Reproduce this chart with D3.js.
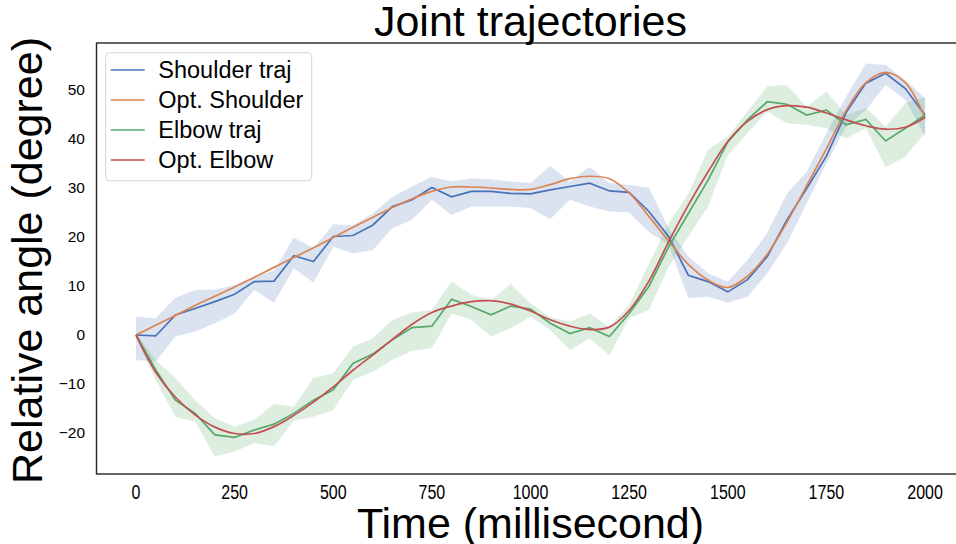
<!DOCTYPE html>
<head>
    <meta charset="utf-8">
    <title>Joint trajectories</title>
    <style>
        body { margin: 0; background: #fff; }
        text { font-family: "Liberation Sans", Arial, sans-serif; fill: #000; }
    </style>
</head>
<body>
    <svg width="956" height="544"></svg>

    <script src="https://d3js.org/d3.v7.min.js"></script>
    <script>

        // time samples (ms)
        var time = [0, 50, 100, 150, 200, 250, 300, 350, 400, 450, 500, 550, 600, 650, 700, 750, 800, 850, 900, 950,
            1000, 1050, 1100, 1150, 1200, 1250, 1300, 1350, 1400, 1450, 1500, 1550, 1600, 1650, 1700, 1750, 1800, 1850, 1900, 1950, 2000];

        var shoulderTraj = [0, -0.2, 4.1, 5.4, 6.8, 8.3, 10.9, 11.0, 16.2, 15.0, 20.1, 20.3, 22.4, 26.2, 27.6, 30.1, 28.2, 29.3, 29.3, 28.9,
            28.8, 29.6, 30.3, 31.0, 29.4, 29.1, 25.2, 20.1, 12.2, 10.9, 8.8, 11.3, 16.0, 23.5, 29.9, 36.5, 45.4, 51.4, 53.4, 50.3, 44.9];
        var shoulderLo = [-5.1, -5.4, -0.3, 0.7, 2.4, 4.4, 9.2, 6.6, 13.6, 10.7, 18.0, 16.7, 17.3, 21.8, 23.5, 27.6, 24.5, 26.2, 26.2, 26.2,
            25.9, 23.6, 27.6, 26.2, 25.2, 25.0, 21.0, 18.4, 7.5, 7.8, 6.6, 7.8, 12.6, 18.7, 26.9, 35.0, 42.5, 45.9, 51.0, 48.0, 40.5];
        var shoulderHi = [3.7, 3.4, 7.6, 9.2, 9.3, 10.2, 11.9, 13.1, 19.9, 17.7, 22.6, 22.4, 24.8, 28.2, 30.3, 32.3, 31.3, 32.0, 31.8, 31.3,
            31.0, 34.5, 31.3, 34.3, 31.0, 30.6, 30.1, 21.8, 16.0, 12.6, 10.9, 15.3, 20.8, 28.9, 33.3, 41.2, 48.6, 55.4, 55.1, 52.0, 48.3];
        var optShoulder = [0, 2, 4, 6, 7.9, 9.8, 11.8, 13.8, 15.8, 17.8, 19.9, 22, 24, 26, 27.8, 29.3, 30.2, 30.2, 30, 29.7,
            29.7, 30.7, 31.9, 32.4, 31.9, 29, 24.2, 19.2, 14.4, 11.2, 9.7, 12, 16.5, 23, 30.5, 38, 45.8, 51.5, 53.6, 51.5, 44.3];

        var elbowTraj = [0, -7.1, -13.3, -16.0, -20.4, -20.9, -19.4, -18.2, -16.0, -13.3, -11.2, -5.8, -3.9, -1.0, 1.5, 1.8, 7.3, 5.8, 4.1, 5.9,
            5.3, 2.4, 0.3, 1.5, -0.3, 4.4, 9.9, 18.0, 24.8, 31.6, 39.4, 43.9, 47.6, 47.1, 44.9, 45.9, 42.9, 44.0, 39.6, 42.2, 44.9];
        var elbowLo = [-0.5, -9.2, -16.7, -17.7, -24.8, -23.8, -22.1, -22.7, -17.5, -16.7, -15.3, -9.2, -7.5, -5.1, -3.2, -2.7, 4.4, 3.1, -0.3, 1.4,
            3.7, 1.0, -3.1, -0.7, -4.1, 3.4, 5.1, 13.9, 20.1, 26.2, 36.7, 41.2, 45.6, 43.2, 42.9, 42.2, 40.1, 42.2, 34.3, 36.4, 41.2];
        var elbowHi = [0.5, -5.1, -8.8, -13.3, -17.0, -18.7, -17.3, -14.1, -14.6, -8.8, -7.8, -2.4, -0.7, 3.1, 4.6, 5.1, 10.9, 8.2, 7.1, 10.4,
            6.5, 3.6, 2.7, 4.4, 1.7, 6.1, 14.5, 22.8, 28.9, 37.8, 40.5, 45.6, 50.7, 51.0, 46.6, 49.7, 44.9, 46.3, 42.5, 47.3, 48.6];
        var optElbow = [0, -7.6, -12.7, -16.3, -18.8, -20.1, -20.1, -18.7, -16.4, -13.7, -10.6, -7.2, -4.1, -0.9, 2.2, 4.6, 5.9, 6.8, 7, 6.3,
            4.9, 3.1, 1.8, 1.1, 1.6, 5, 11, 19, 26.5, 33.3, 39.5, 43.6, 46, 46.8, 46.5, 45.3, 43.9, 42.7, 42, 42.4, 44.4];

        var xTicks = [0, 250, 500, 750, 1000, 1250, 1500, 1750, 2000];
        var yTicks = [-20, -10, 0, 10, 20, 30, 40, 50];

        var series = [
            { name: "Shoulder traj", values: shoulderTraj, lo: shoulderLo, hi: shoulderHi, color: "#4a72b8", smooth: false },
            { name: "Opt. Shoulder", values: optShoulder, color: "#dd8452", smooth: true },
            { name: "Elbow traj", values: elbowTraj, lo: elbowLo, hi: elbowHi, color: "#55a868", smooth: false },
            { name: "Opt. Elbow", values: optElbow, color: "#c44e52", smooth: true }
        ];

        var svg = d3.select("svg"),
            plot = { left: 96.5, right: 964.5, top: 43, bottom: 474 };

        var x = d3.scaleLinear().domain([-100, 2100]).range([plot.left, plot.right]),
            y = d3.scaleLinear().domain([-28.37, 59.59]).range([plot.bottom, plot.top]);

        svg.append("clipPath").attr("id", "plot")
            .append("rect").attr("x", plot.left).attr("y", plot.top)
            .attr("width", plot.right - plot.left).attr("height", plot.bottom - plot.top);

        var g = svg.append("g").attr("clip-path", "url(#plot)");

        var band = d3.area()
            .x(function (d) { return x(d.t); })
            .y0(function (d) { return y(d.lo); })
            .y1(function (d) { return y(d.hi); });

        series.forEach(function (s) {
            if (!s.lo) return;
            g.append("path")
                .datum(time.map(function (t, i) { return { t: t, lo: s.lo[i], hi: s.hi[i] }; }))
                .attr("fill", s.color)
                .attr("fill-opacity", 0.2)
                .attr("d", band);
        });

        series.forEach(function (s) {
            var line = d3.line()
                .x(function (d, i) { return x(time[i]); })
                .y(function (d) { return y(d); })
                .curve(s.smooth ? d3.curveCatmullRom : d3.curveLinear);
            g.append("path")
                .datum(s.values)
                .attr("fill", "none")
                .attr("stroke", s.color)
                .attr("stroke-width", 1.7)
                .attr("d", line);
        });

        // frame
        svg.append("rect")
            .attr("x", plot.left).attr("y", plot.top)
            .attr("width", plot.right - plot.left).attr("height", plot.bottom - plot.top)
            .attr("fill", "none").attr("stroke", "#262626").attr("stroke-width", 1.4);

        // ticks
        svg.selectAll(".xtick").data(xTicks).enter().append("text")
            .attr("class", "xtick")
            .attr("transform", function (d) { return "translate(" + x(d) + ",499) scale(0.8,1)"; })
            .attr("text-anchor", "middle")
            .style("font-size", "20px")
            .text(function (d) { return d; });

        svg.selectAll(".ytick").data(yTicks).enter().append("text")
            .attr("class", "ytick")
            .attr("x", 85)
            .attr("y", function (d) { return y(d) + 5.5; })
            .attr("text-anchor", "end")
            .style("font-size", "15.5px")
            .text(function (d) { return d < 0 ? "\u2212" + Math.abs(d) : d; });

        // titles
        svg.append("text")
            .attr("x", (plot.left + plot.right) / 2).attr("y", 36)
            .attr("text-anchor", "middle")
            .style("font-size", "43px")
            .text("Joint trajectories");

        svg.append("text")
            .attr("x", (plot.left + plot.right) / 2).attr("y", 538)
            .attr("text-anchor", "middle")
            .style("font-size", "43px")
            .text("Time (millisecond)");

        svg.append("text")
            .attr("transform", "translate(42," + ((plot.top + plot.bottom) / 2 + 2) + ") rotate(-90)")
            .attr("text-anchor", "middle")
            .style("font-size", "43px")
            .text("Relative angle (degree)");

        // legend
        var legend = svg.append("g").attr("transform", "translate(105.7,52.7)");
        legend.append("rect")
            .attr("width", 206).attr("height", 128)
            .attr("rx", 4)
            .attr("fill", "#fff").attr("fill-opacity", 0.8)
            .attr("stroke", "#d6d6d6");

        var item = legend.selectAll(".item").data(series).enter().append("g")
            .attr("transform", function (d, i) { return "translate(0," + (17.3 + i * 30) + ")"; });
        item.append("line")
            .attr("x1", 5).attr("x2", 39)
            .attr("stroke", function (d) { return d.color; })
            .attr("stroke-width", 1.7);
        item.append("text")
            .attr("x", 52.6).attr("y", 8)
            .style("font-size", "23.5px")
            .text(function (d) { return d.name; });

    </script>
</body>
